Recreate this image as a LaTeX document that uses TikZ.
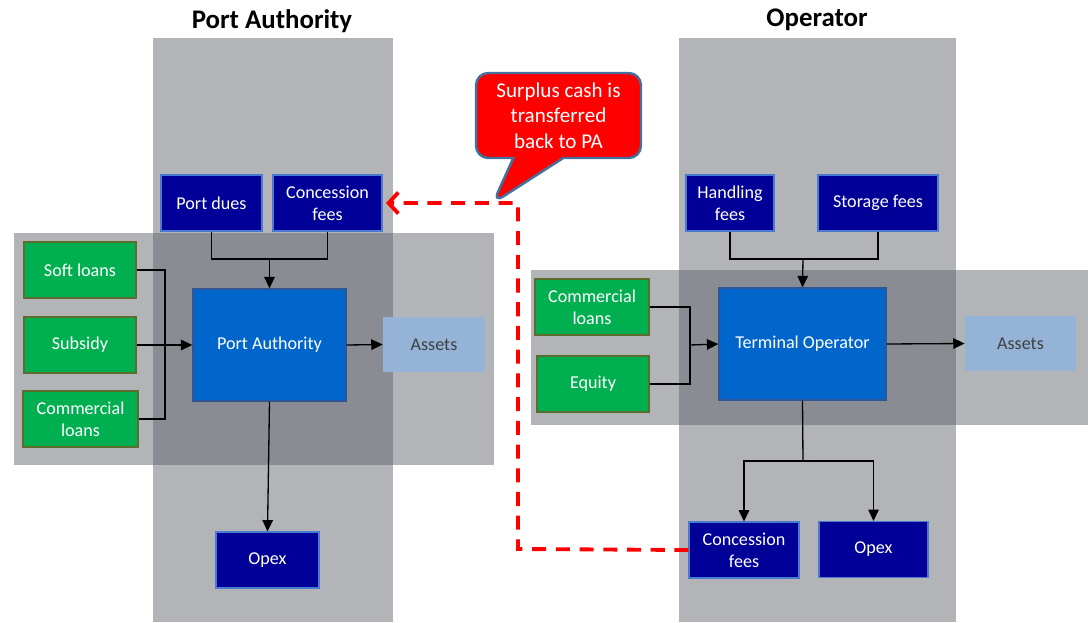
\documentclass[tikz,border=0pt]{standalone}
\usepackage{fontspec}
\setmainfont{Carlito}
\usepackage{tikz}
\usetikzlibrary{arrows.meta, positioning, shapes.callouts}
\usepackage{xcolor}
\definecolor{feeblue}{HTML}{000099}
\definecolor{feeedge}{HTML}{4A7BD0}
\definecolor{fundgreen}{HTML}{00B050}
\definecolor{fundedge}{HTML}{5C6B2E}
\definecolor{entblue}{HTML}{0066CC}
\definecolor{entedge}{HTML}{2F5597}
\definecolor{assetblue}{HTML}{95B3D7}
\definecolor{bandgray}{RGB}{92,96,104}
\definecolor{calloutedge}{HTML}{41719C}

\begin{document}
\begin{tikzpicture}[
    x=0.02cm, y=-0.02cm,
    fee/.style={
        rectangle, draw=feeedge, fill=feeblue, line width=0.6pt,
        minimum height=1.12cm, text=white, align=center,
        font=\fontsize{10.3}{12.5}\selectfont, inner sep=1pt
    },
    fund/.style={
        rectangle, draw=fundedge, fill=fundgreen, line width=0.8pt,
        minimum height=1.12cm, text=white, align=center,
        font=\fontsize{10.3}{12.5}\selectfont, inner sep=1pt
    },
    entity/.style={
        rectangle, draw=entedge, fill=entblue, line width=0.8pt,
        minimum width=3.06cm, minimum height=2.24cm, text=white,
        font=\fontsize{10.3}{12.5}\selectfont
    },
    asset/.style={
        rectangle, fill=assetblue, minimum height=1.1cm,
        text=black!75, font=\fontsize{10.3}{12.5}\selectfont
    },
    band/.style={fill=bandgray, fill opacity=0.47},
    title/.style={font=\fontsize{15.3}{18}\selectfont\bfseries},
    arr/.style={-{Triangle[length=6.5pt,width=6pt]}, line width=0.75pt},
    link/.style={line width=0.75pt}
]
\useasboundingbox (0,0) rectangle (1088,622);

% shaded areas
\fill[band] (153,38) rectangle (393,622);
\fill[band] (14,233) rectangle (494,465);
\fill[band] (679,38) rectangle (956,622);
\fill[band] (531,270) rectangle (1088,425);

\node[title] (tpa) at (272,21) {Port Authority};
\node[title] (top) at (817,20) {Operator};

% port authority side
\node[fee, minimum width=2.02cm] (pdues) at (211.5,203) {Port dues};
\node[fee, minimum width=2.18cm] (pconc) at (327.5,203) {Concession\\fees};
\node[fund, minimum width=2.24cm] (soft) at (80,270) {Soft loans};
\node[fund, minimum width=2.24cm] (subsidy) at (80,345) {Subsidy};
\node[fund, minimum width=2.30cm] (ploans) at (80.5,419) {Commercial\\loans};
\node[entity] (pa) at (269.5,345) {Port Authority};
\node[asset, minimum width=2.04cm] (passets) at (434,344.5) {Assets};
\node[fee, minimum width=2.06cm] (popex) at (267.5,560) {Opex};

\coordinate (pjoin) at (269.5,259);
\coordinate (lbus) at (165,345);
\draw[link] (pdues.south) |- (pjoin) -| (pconc.south);
\draw[arr] (pjoin) -- (pa.north);
\draw[link] (soft.east) -| (lbus) |- (ploans.east);
\draw[arr] (subsidy.east) -- (pa.west);
\draw[arr] (pa.east) -- (passets.west);
\draw[arr] (pa.south) -- (popex.north);

% operator side
\node[fee, minimum width=1.76cm] (handling) at (730,203) {Handling\\fees};
\node[fee, minimum width=2.40cm] (storage) at (878,203) {Storage fees};
\node[fund, minimum width=2.28cm] (oloans) at (592,307) {Commercial\\loans};
\node[fund, minimum width=2.24cm] (equity) at (593,384) {Equity};
\node[entity, minimum width=3.34cm] (to) at (802.5,344) {Terminal Operator};
\node[asset, minimum width=2.22cm] (oassets) at (1020.5,343.5) {Assets};
\node[fee, minimum width=2.20cm] (oconc) at (744,550) {Concession\\fees};
\node[fee, minimum width=2.18cm] (oopex) at (873.5,549.5) {Opex};

\coordinate (ojoin) at (803,259);
\coordinate (rbus) at (690,345);
\coordinate (osplit) at (803,461);
\draw[link] (handling.south) |- (ojoin) -| (storage.south);
\draw[arr] (ojoin) -- (to.north);
\draw[link] (oloans.east) -| (rbus) |- (equity.east);
\draw[arr] (rbus) -- (to.west);
\draw[arr] (to.east) -- (oassets.west);
\draw[link] (to.south) -- (osplit);
\draw[arr] (osplit) -| (oconc.north);
\draw[arr] (osplit) -| (oopex.north);

% cash going back to the PA
\coordinate (bend) at (518,549);
\draw[red, line width=2.2pt, dash pattern=on 8pt off 5.5pt,
      -{Straight Barb[length=5.5pt,width=12pt]}, shorten >=2pt]
    (oconc.west) -- (bend) |- (pconc.east);

\coordinate (tip) at (493,203);
\node[rectangle callout, callout absolute pointer={(tip)},
      callout pointer width=1cm, rounded corners=7pt,
      fill=red, draw=calloutedge, line width=1.4pt,
      minimum width=3.3cm, minimum height=1.7cm, text=white, align=center,
      font=\fontsize{12}{14.5}\selectfont] (note) at (558.5,115.5)
    {Surplus cash is\\transferred\\back to PA};
\end{tikzpicture}
\end{document}
